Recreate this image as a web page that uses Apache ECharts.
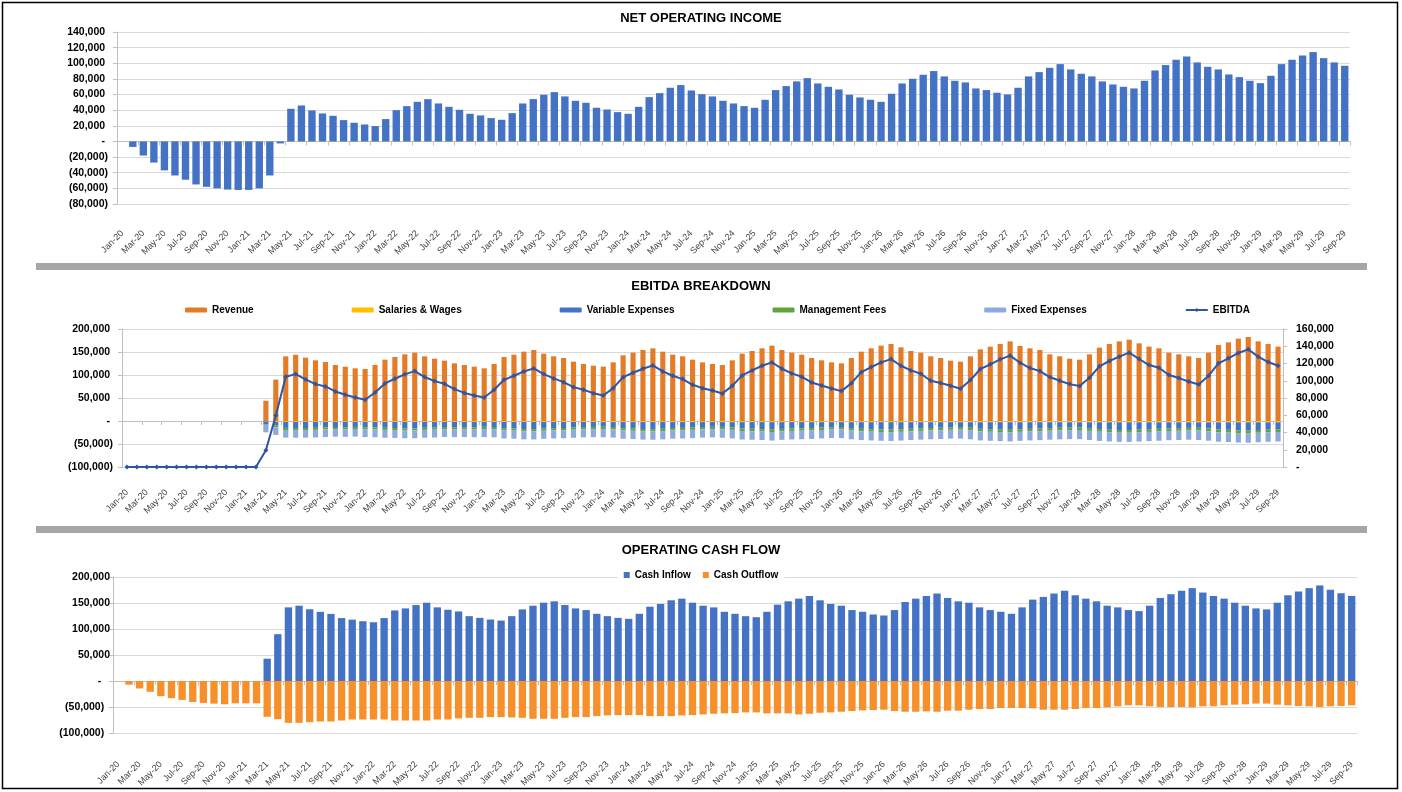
<!DOCTYPE html>
<html><head><meta charset="utf-8">
<script src="https://cdn.jsdelivr.net/npm/echarts@6/dist/echarts.min.js"></script>
<style>html,body{margin:0;padding:0;background:#fff}#c{width:1402px;height:792px}</style>
</head><body><div id="c"></div>
<script>
const monthNames = ['Jan','Feb','Mar','Apr','May','Jun','Jul','Aug','Sep','Oct','Nov','Dec'];
const yearLabels = ['20','21','22','23','24','25','26','27','28','29'];
const categories = [];
yearLabels.forEach(function (y) {
  monthNames.forEach(function (m, i) {
    if (!(y === '29' && i > 8)) categories.push(m + '-' + y);
  });
});

// NET OPERATING INCOME
const noi = [0,-7000,-18000,-27000,-37000,-43500,-49000,-55000,-58000,-60000,-61500,-62000,
-62000,-60000,-43500,-2500,41800,46000,39700,35800,32800,27300,23900,21700,
19600,28600,40000,45200,50700,54100,48600,44300,40500,35400,33300,29900,
27700,36200,48600,54200,59700,63100,57600,52000,49500,43100,40900,37500,
35400,44300,56700,61800,68700,72100,65200,60500,57600,52000,48600,45200,
43100,53300,65700,70800,76800,81000,74200,69900,66500,59700,56300,53300,
50700,61000,74200,80200,85300,90000,83200,77600,75500,67800,65700,62300,
60100,68700,83200,88700,94200,98900,92100,86600,83200,76800,72900,69900,
67800,77600,90800,97700,104500,108700,101100,95500,92100,85700,82300,77600,
74600,84000,98900,104500,110000,114300,106600,101100,96800];

// EBITDA BREAKDOWN
const revenue = [0,0,0,0,0,0,0,0,0,0,0,0,
0,0,44000,90000,140600,144000,137700,131900,128300,121700,118100,114500,
113000,121700,133300,139100,144900,148600,140600,135500,131200,125400,121700,118100,
114500,123900,139100,144200,150700,154300,146400,140600,137000,129000,123900,120300,
118100,127500,142800,148600,154300,158000,150700,144200,140600,133300,127500,123900,
121700,131900,146400,152200,158000,163800,154300,148600,144200,137000,131900,127500,
125400,137000,150700,158000,163800,167400,160100,152200,148600,140600,137000,131200,
129000,140600,155800,161600,167400,173200,163000,158000,154300,144900,140600,135500,
133300,144900,159400,167400,173200,176800,168800,161600,158000,148600,144900,140600,
137000,148600,165200,171000,179000,182600,173200,167400,161600];

const salariesWages = [0,0,0,0,0,0,0,0,0,0,0,0,
0,0,-1000,-2000,-2000,-2000,-2000,-2000,-2000,-2000,-2000,-2000,
-2100,-2100,-2100,-2100,-2100,-2100,-2100,-2100,-2100,-2100,-2100,-2100,
-2200,-2200,-2200,-2200,-2200,-2200,-2200,-2200,-2200,-2200,-2200,-2200,
-2300,-2300,-2300,-2300,-2300,-2300,-2300,-2300,-2300,-2300,-2300,-2300,
-2400,-2400,-2400,-2400,-2400,-2400,-2400,-2400,-2400,-2400,-2400,-2400,
-2500,-2500,-2500,-2500,-2500,-2500,-2500,-2500,-2500,-2500,-2500,-2500,
-2600,-2600,-2600,-2600,-2600,-2600,-2600,-2600,-2600,-2600,-2600,-2600,
-2700,-2700,-2700,-2700,-2700,-2700,-2700,-2700,-2700,-2700,-2700,-2700,
-2800,-2800,-2800,-2800,-2800,-2800,-2800,-2800,-2800];

const variableExpenses = [0,0,0,0,0,0,0,0,0,0,0,0,
0,0,-6000,-7300,-13000,-13300,-13200,-12800,-11900,-11100,-11400,-10900,
-11400,-11600,-12700,-13100,-13800,-13700,-12600,-12200,-11000,-11400,-11200,-11500,
-10500,-10900,-13500,-13900,-15400,-15500,-14200,-13400,-13000,-11900,-11000,-10700,
-10200,-10800,-13300,-14000,-15100,-15400,-14600,-13100,-12700,-12000,-10800,-10400,
-10400,-11700,-14100,-14600,-15300,-16400,-14800,-14000,-13500,-12900,-11900,-11000,
-10500,-12900,-14600,-15300,-16100,-16400,-15600,-14500,-13600,-12800,-12200,-11300,
-10600,-12100,-14500,-15300,-16000,-16600,-15400,-14500,-13900,-12900,-12200,-11700,
-11000,-12900,-14800,-16000,-16800,-17000,-16100,-15200,-14400,-13200,-12700,-12200,
-12000,-13500,-15700,-16300,-17500,-17900,-16800,-15900,-15200];

const managementFees = [0,0,0,0,0,0,0,0,0,0,0,0,
0,0,-1600,-4500,-4500,-4500,-4500,-4500,-4500,-4500,-4500,-4500,
-4600,-4600,-4600,-4600,-4600,-4600,-4600,-4600,-4600,-4600,-4600,-4600,
-4800,-4800,-4800,-4800,-4800,-4800,-4800,-4800,-4800,-4800,-4800,-4800,
-5000,-5000,-5000,-5000,-5000,-5000,-5000,-5000,-5000,-5000,-5000,-5000,
-5200,-5200,-5200,-5200,-5200,-5200,-5200,-5200,-5200,-5200,-5200,-5200,
-5400,-5400,-5400,-5400,-5400,-5400,-5400,-5400,-5400,-5400,-5400,-5400,
-5600,-5600,-5600,-5600,-5600,-5600,-5600,-5600,-5600,-5600,-5600,-5600,
-5800,-5800,-5800,-5800,-5800,-5800,-5800,-5800,-5800,-5800,-5800,-5800,
-6000,-6000,-6000,-6000,-6000,-6000,-6000,-6000,-6000];

const fixedExpenses = [0,0,0,0,0,0,0,0,0,0,0,0,
0,0,-16000,-16500,-16500,-16500,-16500,-16500,-16500,-16500,-16500,-16500,
-17000,-17000,-17000,-17000,-17000,-17000,-17000,-17000,-17000,-17000,-17000,-17000,
-17500,-17500,-17500,-17500,-17500,-17500,-17500,-17500,-17500,-17500,-17500,-17500,
-18000,-18000,-18000,-18000,-18000,-18000,-18000,-18000,-18000,-18000,-18000,-18000,
-18500,-18500,-18500,-18500,-18500,-18500,-18500,-18500,-18500,-18500,-18500,-18500,
-19000,-19000,-19000,-19000,-19000,-19000,-19000,-19000,-19000,-19000,-19000,-19000,
-19500,-19500,-19500,-19500,-19500,-19500,-19500,-19500,-19500,-19500,-19500,-19500,
-20000,-20000,-20000,-20000,-20000,-20000,-20000,-20000,-20000,-20000,-20000,-20000,
-20500,-20500,-20500,-20500,-20500,-20500,-20500,-20500,-20500];

const ebitda = [0,0,0,0,0,0,0,0,0,0,0,0,
0,0,19400,59700,104600,107700,101500,96100,93400,87600,83700,80600,
77900,86400,96900,102300,107400,111200,104300,99600,96500,90300,85900,82900,
80600,89500,101100,105800,110800,114300,107700,102700,98400,92600,89500,85600,
82900,91400,104200,109300,113900,117800,110800,105800,101900,95300,91400,88700,
85200,94100,106200,112000,117400,121300,113900,108500,104600,98000,94500,91000,
88000,97200,110000,115800,121300,125100,117400,112000,108100,100000,97300,94200,
90700,100800,113600,119000,124800,129100,120900,114700,111200,104300,100000,96100,
93800,103500,116700,122900,127900,132600,125200,118200,115100,106600,103100,99200,
95700,105800,120200,126000,132200,136400,127900,121700,117400];

// OPERATING CASH FLOW
const cashInflow = [0,0,0,0,0,0,0,0,0,0,0,0,
0,0,42900,90000,141600,144800,138000,133000,129000,121000,118000,115000,
113000,121000,135700,139600,146000,150600,141600,137000,133800,124700,121400,118200,
116200,124700,137700,144800,150600,153200,146100,139600,136400,129200,124700,121400,
119500,129200,142900,148100,155200,158400,150600,144800,141600,133100,129200,124700,
122700,133100,146800,153200,158400,163600,155200,148100,144800,136400,133100,127900,
126000,136400,151900,158400,163600,168200,159700,153200,150600,141600,136400,133100,
129200,141600,156500,161700,168200,173400,164900,158400,153200,144800,141600,136400,
134400,144800,159700,166900,173400,178600,170100,163600,158400,150600,144800,139600,
137700,150600,164900,172100,178600,183800,175300,168800,163600];

const cashOutflow = [0,-7100,-14300,-20800,-29200,-33100,-36400,-40300,-42200,-43500,-44800,-42900,
-42900,-42900,-68800,-73400,-80500,-80500,-79200,-77900,-77900,-76000,-74000,-74000,
-74000,-74000,-76000,-76000,-76000,-76000,-74000,-74000,-72000,-70800,-70800,-69500,
-69500,-70100,-70800,-72700,-72700,-72700,-70800,-69500,-69500,-67500,-66200,-65600,
-65600,-65600,-67500,-67500,-67500,-66200,-65600,-64300,-63000,-62300,-61700,-60400,
-60400,-62300,-62300,-62300,-64300,-63000,-61000,-60400,-59100,-57800,-56500,-55800,
-55200,-57800,-59100,-59100,-58400,-59100,-57100,-57100,-55200,-53900,-53900,-51900,
-51900,-51900,-52600,-55200,-55200,-55200,-53900,-51900,-51900,-50600,-48700,-46800,
-46800,-48700,-50000,-50000,-50000,-50600,-48700,-48700,-46800,-45500,-44800,-43500,
-43500,-45500,-46800,-48100,-48700,-50000,-48700,-48100,-46800];

const FONT = 'Liberation Sans';
function thousands(v) { return String(Math.abs(v)).replace(/\B(?=(\d{3})+(?!\d))/g, ','); }
function acctA(v) { if (v === 0) return '- '; return v < 0 ? '(' + thousands(v) + ')' : thousands(v) + ' '; }
function acctB(v) { if (v === 0) return '-   '; return v < 0 ? '(' + thousands(v) + ')  ' : thousands(v); }
function acctR(v) { return v === 0 ? '-' : thousands(v); }

const gridLineColor = '#D9D9D9';
const axisColor = '#BFBFBF';
const yLabel = { fontFamily: FONT, fontWeight: 'bold', fontSize: 10.5, color: '#000' };

function zeroAxis(grid) {
  return { type: 'category', gridIndex: grid, data: categories, position: 'bottom', boundaryGap: true,
    axisLine: { show: true, onZero: true, lineStyle: { color: axisColor, width: 1 } },
    axisTick: { show: true, interval: 1, length: 4, lineStyle: { color: axisColor } },
    axisLabel: { show: false }, splitLine: { show: false } };
}
function labelAxis(grid, margin) {
  return { type: 'category', gridIndex: grid, data: categories, position: 'bottom', boundaryGap: true,
    axisLine: { show: false, onZero: false }, axisTick: { show: false }, splitLine: { show: false },
    axisLabel: { show: true, interval: 1, rotate: 45, margin: margin, fontFamily: FONT, fontSize: 9, color: '#404040' } };
}
function valueAxis(grid, min, max, interval, fmt, margin, extra) {
  return Object.assign({ type: 'value', gridIndex: grid, min: min, max: max, interval: interval,
    axisLine: { show: true, lineStyle: { color: axisColor } },
    axisTick: { show: true, length: 4, lineStyle: { color: axisColor } },
    splitLine: { show: true, lineStyle: { color: gridLineColor, width: 1 } },
    axisLabel: Object.assign({ formatter: fmt, margin: margin }, yLabel) }, extra || {});
}

const chart = echarts.init(document.getElementById('c'), null, { renderer: 'canvas' });
chart.setOption({
  animation: false,
  backgroundColor: '#fff',
  title: [
    { text: 'NET OPERATING INCOME', left: 'center', top: 11, padding: 0, textStyle: { fontFamily: FONT, fontWeight: 'bold', fontSize: 13, color: '#000', lineHeight: 15 } },
    { text: 'EBITDA BREAKDOWN', left: 'center', top: 279, padding: 0, textStyle: { fontFamily: FONT, fontWeight: 'bold', fontSize: 13, color: '#000', lineHeight: 15 } },
    { text: 'OPERATING CASH FLOW', left: 'center', top: 543, padding: 0, textStyle: { fontFamily: FONT, fontWeight: 'bold', fontSize: 13, color: '#000', lineHeight: 15 } }
  ],
  legend: [
    { data: ['Revenue', 'Salaries & Wages', 'Variable Expenses', 'Management Fees', 'Fixed Expenses', 'EBITDA'],
      left: 185, top: 305, padding: 0, itemWidth: 22, itemHeight: 5, itemGap: 98,
      textStyle: { fontFamily: FONT, fontWeight: 'bold', fontSize: 10, color: '#000' } },
    { data: ['Cash Inflow', 'Cash Outflow'], left: 'center', top: 568, padding: [2, 6], backgroundColor: '#fff',
      icon: 'rect', itemWidth: 6, itemHeight: 6, itemGap: 12,
      textStyle: { fontFamily: FONT, fontWeight: 'bold', fontSize: 10, color: '#000' } }
  ],
  grid: [
    { left: 117, right: 52, top: 32, height: 172 },
    { left: 122, right: 119, top: 329, height: 138 },
    { left: 113, right: 45, top: 577, height: 156 }
  ],
  xAxis: [ zeroAxis(0), labelAxis(0, 28), zeroAxis(1), labelAxis(1, 24), zeroAxis(2), labelAxis(2, 30) ],
  yAxis: [
    valueAxis(0, -80000, 140000, 20000, acctA, 9),
    valueAxis(1, -100000, 200000, 50000, acctA, 9),
    valueAxis(1, 0, 160000, 20000, acctR, 13, { position: 'right', splitLine: { show: false } }),
    valueAxis(2, -100000, 200000, 50000, acctB, 3)
  ],
  graphic: [
    { type: 'rect', shape: { x: 2.5, y: 2.5, width: 1395, height: 786 }, style: { fill: 'none', stroke: '#000', lineWidth: 1.5 }, z: 100 },
    { type: 'rect', shape: { x: 36, y: 263, width: 1331, height: 7 }, style: { fill: '#A6A6A6' }, z: 100 },
    { type: 'rect', shape: { x: 36, y: 526, width: 1331, height: 7 }, style: { fill: '#A6A6A6' }, z: 100 }
  ],
  series: [
    { name: 'Net Operating Income', type: 'bar', xAxisIndex: 0, yAxisIndex: 0, data: noi, barCategoryGap: '30%', itemStyle: { color: '#4472C4' } },
    { name: 'Revenue', type: 'bar', xAxisIndex: 2, yAxisIndex: 1, stack: 'eb', data: revenue, barCategoryGap: '48%', itemStyle: { color: '#E47B27' } },
    { name: 'Salaries & Wages', type: 'bar', xAxisIndex: 2, yAxisIndex: 1, stack: 'eb', data: salariesWages, itemStyle: { color: '#FFC000' } },
    { name: 'Variable Expenses', type: 'bar', xAxisIndex: 2, yAxisIndex: 1, stack: 'eb', data: variableExpenses, itemStyle: { color: '#4472C4' } },
    { name: 'Management Fees', type: 'bar', xAxisIndex: 2, yAxisIndex: 1, stack: 'eb', data: managementFees, itemStyle: { color: '#5FA43F' } },
    { name: 'Fixed Expenses', type: 'bar', xAxisIndex: 2, yAxisIndex: 1, stack: 'eb', data: fixedExpenses, itemStyle: { color: '#8EA9DB' } },
    { name: 'EBITDA', type: 'line', xAxisIndex: 2, yAxisIndex: 2, data: ebitda, symbol: 'diamond', symbolSize: 5, z: 5,
      lineStyle: { color: '#2F55A5', width: 2 }, itemStyle: { color: '#2F55A5' } },
    { name: 'Cash Inflow', type: 'bar', xAxisIndex: 4, yAxisIndex: 3, stack: 'cf', data: cashInflow, barCategoryGap: '31%', itemStyle: { color: '#4472C4' } },
    { name: 'Cash Outflow', type: 'bar', xAxisIndex: 4, yAxisIndex: 3, stack: 'cf', data: cashOutflow, itemStyle: { color: '#F7902B' } }
  ]
});
</script></body></html>
